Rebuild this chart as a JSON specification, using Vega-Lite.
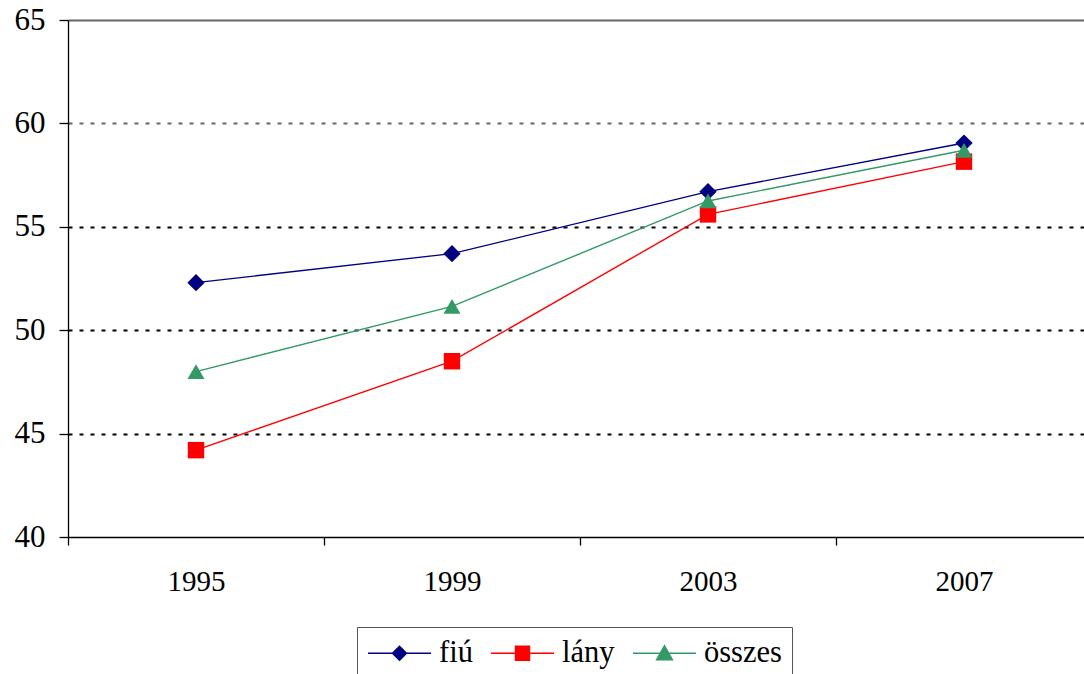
{
  "$schema": "https://vega.github.io/schema/vega-lite/v6.json",
  "autosize": "none",
  "width": 1024,
  "height": 517,
  "padding": {"left": 68, "top": 20, "right": 0, "bottom": 137},
  "background": "white",
  "config": {
    "view": {"stroke": null},
    "font": "Liberation Serif",
    "axis": {"labelFont": "Liberation Serif", "labelColor": "#000", "title": null}
  },
  "data": {
    "values": [
      {"ev": "1995", "csoport": "fiú", "ertek": 52.3},
      {"ev": "1999", "csoport": "fiú", "ertek": 53.7},
      {"ev": "2003", "csoport": "fiú", "ertek": 56.7},
      {"ev": "2007", "csoport": "fiú", "ertek": 59.05},
      {"ev": "1995", "csoport": "lány", "ertek": 44.2},
      {"ev": "1999", "csoport": "lány", "ertek": 48.5},
      {"ev": "2003", "csoport": "lány", "ertek": 55.6},
      {"ev": "2007", "csoport": "lány", "ertek": 58.15},
      {"ev": "1995", "csoport": "összes", "ertek": 48.0},
      {"ev": "1999", "csoport": "összes", "ertek": 51.15},
      {"ev": "2003", "csoport": "összes", "ertek": 56.25},
      {"ev": "2007", "csoport": "összes", "ertek": 58.7}
    ]
  },
  "encoding": {
    "x": {
      "field": "ev",
      "type": "ordinal",
      "scale": {"type": "band", "paddingInner": 0, "paddingOuter": 0},
      "axis": {
        "labelAngle": 0,
        "labelFontSize": 29,
        "tickBand": "extent",
        "tickSize": 8,
        "tickColor": "#000",
        "tickWidth": 1.3,
        "domainColor": "#000",
        "domainWidth": 1.3,
        "labelPadding": 22,
        "grid": false
      }
    },
    "y": {
      "field": "ertek",
      "type": "quantitative",
      "scale": {"domain": [40, 65], "nice": false, "zero": false},
      "axis": {
        "values": [40, 45, 50, 55, 60, 65],
        "labelFontSize": 31,
        "tickSize": 9,
        "tickColor": "#000",
        "tickWidth": 1.3,
        "domainColor": "#000",
        "domainWidth": 1.3,
        "labelPadding": 14,
        "grid": true,
        "gridColor": {"condition": {"test": "datum.value >= 60", "value": "#666"}, "value": "#000"},
        "gridDash": {"condition": {"test": "datum.value === 65", "value": []}, "value": [4, 7]},
        "gridWidth": {"condition": {"test": "datum.value >= 60", "value": 1.8}, "value": 2.2},
        "gridOpacity": {"condition": {"test": "datum.value === 40", "value": 0}, "value": 1}
      }
    },
    "color": {
      "field": "csoport",
      "type": "nominal",
      "scale": {"domain": ["fiú", "lány", "összes"], "range": ["#000080", "#ff0000", "#339966"]},
      "legend": null
    }
  },
  "layer": [
    {
      "mark": {"type": "line", "strokeWidth": 1.4},
      "encoding": {
        "color": {
          "field": "csoport",
          "type": "nominal",
          "scale": {"domain": ["fiú", "lány", "összes"], "range": ["#000080", "#ff0000", "#339966"]},
          "legend": {
            "title": null,
            "orient": "none",
            "direction": "horizontal",
            "legendX": 289,
            "legendY": 607,
            "padding": 10,
            "fillColor": "white",
            "strokeColor": "#555",
            "labelFont": "Liberation Serif",
            "labelFontSize": 30.5,
            "labelColor": "#000",
            "labelOffset": 40,
            "columnPadding": 15,
            "symbolSize": 900,
            "symbolStrokeWidth": 1.4,
            "symbolOpacity": 1,
            "encode": {
              "symbols": {
                "update": {
                  "shape": {"signal": "datum.value === 'fiú' ? 'M-1,0H3.2M1.1,-0.47L1.57,0L1.1,0.47L0.63,0Z' : datum.value === 'lány' ? 'M-1,0H3.2M0.63,-0.47H1.57V0.47H0.63Z' : 'M-1,0H3.2M1.1,-0.5L1.63,0.43H0.57Z'"},
                  "fill": {"signal": "scale('color', datum.value)"},
                  "stroke": {"signal": "scale('color', datum.value)"}
                }
              }
            }
          }
        }
      }
    },
    {
      "transform": [{"filter": "datum.csoport === 'fiú'"}],
      "mark": {"type": "point", "shape": "diamond", "filled": true, "opacity": 1, "size": 300}
    },
    {
      "transform": [{"filter": "datum.csoport === 'lány'"}],
      "mark": {"type": "point", "shape": "square", "filled": true, "opacity": 1, "size": 270}
    },
    {
      "transform": [{"filter": "datum.csoport === 'összes'"}],
      "mark": {"type": "point", "shape": "triangle-up", "filled": true, "opacity": 1, "size": 290}
    }
  ]
}
